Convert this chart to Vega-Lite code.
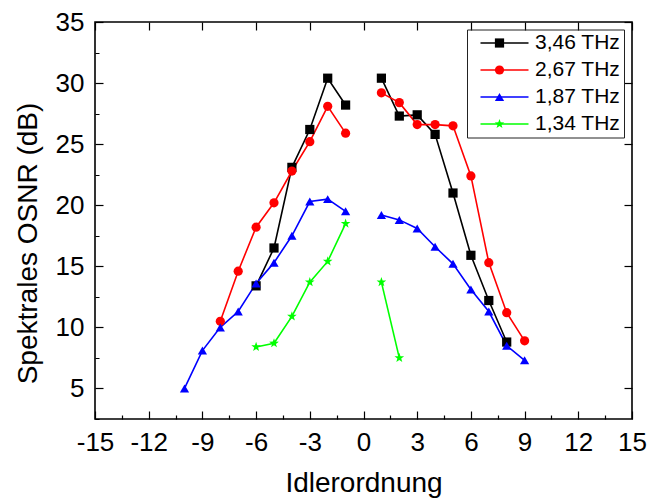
{
  "$schema": "https://vega.github.io/schema/vega-lite/v6.json",
  "width": 537,
  "height": 397,
  "autosize": {"type": "none"},
  "padding": {"left": 95, "top": 22, "right": 16, "bottom": 83},
  "background": "white",
  "config": {
    "view": {"stroke": "black", "strokeWidth": 1.6},
    "font": "Liberation Sans",
    "axis": {"grid": false, "ticks": true, "zindex": 1, "domainColor": "black", "domainWidth": 1.6, "tickColor": "black", "tickWidth": 1.2, "labelColor": "black", "titleColor": "black", "labelFont": "Liberation Sans", "titleFont": "Liberation Sans", "labelFontSize": 26, "titleFontSize": 28, "titleFontWeight": "normal"}
  },
  "data": {"values": [
    {"f": "3,46 THz", "side": "L", "n": -6, "osnr": 13.4},
    {"f": "3,46 THz", "side": "L", "n": -5, "osnr": 16.5},
    {"f": "3,46 THz", "side": "L", "n": -4, "osnr": 23.1},
    {"f": "3,46 THz", "side": "L", "n": -3, "osnr": 26.2},
    {"f": "3,46 THz", "side": "L", "n": -2, "osnr": 30.4},
    {"f": "3,46 THz", "side": "L", "n": -1, "osnr": 28.2},
    {"f": "3,46 THz", "side": "R", "n": 1, "osnr": 30.4},
    {"f": "3,46 THz", "side": "R", "n": 2, "osnr": 27.3},
    {"f": "3,46 THz", "side": "R", "n": 3, "osnr": 27.4},
    {"f": "3,46 THz", "side": "R", "n": 4, "osnr": 25.8},
    {"f": "3,46 THz", "side": "R", "n": 5, "osnr": 21.0},
    {"f": "3,46 THz", "side": "R", "n": 6, "osnr": 15.9},
    {"f": "3,46 THz", "side": "R", "n": 7, "osnr": 12.2},
    {"f": "3,46 THz", "side": "R", "n": 8, "osnr": 8.8},
    {"f": "2,67 THz", "side": "L", "n": -8, "osnr": 10.5},
    {"f": "2,67 THz", "side": "L", "n": -7, "osnr": 14.6},
    {"f": "2,67 THz", "side": "L", "n": -6, "osnr": 18.2},
    {"f": "2,67 THz", "side": "L", "n": -5, "osnr": 20.2},
    {"f": "2,67 THz", "side": "L", "n": -4, "osnr": 22.8},
    {"f": "2,67 THz", "side": "L", "n": -3, "osnr": 25.2},
    {"f": "2,67 THz", "side": "L", "n": -2, "osnr": 28.1},
    {"f": "2,67 THz", "side": "L", "n": -1, "osnr": 25.9},
    {"f": "2,67 THz", "side": "R", "n": 1, "osnr": 29.2},
    {"f": "2,67 THz", "side": "R", "n": 2, "osnr": 28.4},
    {"f": "2,67 THz", "side": "R", "n": 3, "osnr": 26.6},
    {"f": "2,67 THz", "side": "R", "n": 4, "osnr": 26.6},
    {"f": "2,67 THz", "side": "R", "n": 5, "osnr": 26.5},
    {"f": "2,67 THz", "side": "R", "n": 6, "osnr": 22.4},
    {"f": "2,67 THz", "side": "R", "n": 7, "osnr": 15.3},
    {"f": "2,67 THz", "side": "R", "n": 8, "osnr": 11.2},
    {"f": "2,67 THz", "side": "R", "n": 9, "osnr": 8.9},
    {"f": "1,87 THz", "side": "L", "n": -10, "osnr": 5.0},
    {"f": "1,87 THz", "side": "L", "n": -9, "osnr": 8.1},
    {"f": "1,87 THz", "side": "L", "n": -8, "osnr": 10.0},
    {"f": "1,87 THz", "side": "L", "n": -7, "osnr": 11.3},
    {"f": "1,87 THz", "side": "L", "n": -6, "osnr": 13.6},
    {"f": "1,87 THz", "side": "L", "n": -5, "osnr": 15.3},
    {"f": "1,87 THz", "side": "L", "n": -4, "osnr": 17.5},
    {"f": "1,87 THz", "side": "L", "n": -3, "osnr": 20.3},
    {"f": "1,87 THz", "side": "L", "n": -2, "osnr": 20.5},
    {"f": "1,87 THz", "side": "L", "n": -1, "osnr": 19.5},
    {"f": "1,87 THz", "side": "R", "n": 1, "osnr": 19.2},
    {"f": "1,87 THz", "side": "R", "n": 2, "osnr": 18.8},
    {"f": "1,87 THz", "side": "R", "n": 3, "osnr": 18.1},
    {"f": "1,87 THz", "side": "R", "n": 4, "osnr": 16.6},
    {"f": "1,87 THz", "side": "R", "n": 5, "osnr": 15.2},
    {"f": "1,87 THz", "side": "R", "n": 6, "osnr": 13.1},
    {"f": "1,87 THz", "side": "R", "n": 7, "osnr": 11.3},
    {"f": "1,87 THz", "side": "R", "n": 8, "osnr": 8.5},
    {"f": "1,87 THz", "side": "R", "n": 9, "osnr": 7.3},
    {"f": "1,34 THz", "side": "L", "n": -6, "osnr": 8.4},
    {"f": "1,34 THz", "side": "L", "n": -5, "osnr": 8.7},
    {"f": "1,34 THz", "side": "L", "n": -4, "osnr": 10.9},
    {"f": "1,34 THz", "side": "L", "n": -3, "osnr": 13.7},
    {"f": "1,34 THz", "side": "L", "n": -2, "osnr": 15.4},
    {"f": "1,34 THz", "side": "L", "n": -1, "osnr": 18.5},
    {"f": "1,34 THz", "side": "R", "n": 1, "osnr": 13.7},
    {"f": "1,34 THz", "side": "R", "n": 2, "osnr": 7.5}
  ]},
  "layer": [
    {
      "mark": {"type": "line", "strokeWidth": 1.6},
      "encoding": {
        "x": {"field": "n", "type": "quantitative", "scale": {"domain": [-15, 15], "nice": false, "zero": false},
          "axis": {"orient": "bottom", "title": "Idlerordnung", "titlePadding": 14, "offset": -8, "domain": false,
            "values": [-15,-13.5,-12,-10.5,-9,-7.5,-6,-4.5,-3,-1.5,0,1.5,3,4.5,6,7.5,9,10.5,12,13.5,15],
            "labelExpr": "datum.value % 3 === 0 ? (datum.value < 0 ? '-' + abs(datum.value) : '' + datum.value) : ''",
            "tickSize": 8,
            "tickDash": {"condition": {"test": "datum.value % 3 !== 0", "value": [0, 4, 4]}, "value": [8, 0]},
            "labelPadding": 10, "labelFlush": false, "labelOverlap": false}},
        "y": {"field": "osnr", "type": "quantitative", "scale": {"domain": [2.5, 35], "nice": false, "zero": false},
          "axis": {"orient": "left", "title": "Spektrales OSNR (dB)", "titlePadding": 13, "titleY": 221, "offset": -8, "domain": false,
            "values": [2.5,5,7.5,10,12.5,15,17.5,20,22.5,25,27.5,30,32.5,35],
            "labelExpr": "datum.value % 5 === 0 ? datum.label : ''",
            "tickSize": 8,
            "tickDash": {"condition": {"test": "datum.value % 5 !== 0", "value": [0, 4, 4]}, "value": [8, 0]},
            "labelPadding": 11, "labelFlush": false, "labelOverlap": false}},
        "stroke": {"field": "f", "type": "nominal", "sort": ["3,46 THz", "2,67 THz", "1,87 THz", "1,34 THz"],
          "scale": {"range": ["#000000", "#ff0000", "#0000ff", "#00ff00"]},
          "legend": {"title": null, "orient": "none", "legendX": 372, "legendY": 7.5, "strokeColor": "#222222", "padding": 3,
            "labelFontSize": 21, "labelFont": "Liberation Sans", "labelColor": "black", "rowPadding": 5,
            "symbolType": "M-6,0L6,0", "symbolSize": 64, "symbolStrokeWidth": 1.6, "symbolOffset": 24, "labelOffset": 20}},
        "detail": {"field": "side", "type": "nominal"}
      }
    },
    {
      "mark": {"type": "point", "filled": true, "opacity": 1, "size": 85},
      "encoding": {
        "x": {"field": "n", "type": "quantitative",
          "axis": {"orient": "top", "title": null, "labels": false, "offset": -8, "domain": false,
            "values": [-15,-12,-9,-6,-3,0,3,6,9,12,15],
            "tickSize": 8}},
        "y": {"field": "osnr", "type": "quantitative",
          "axis": {"orient": "right", "title": null, "labels": false, "offset": -8, "domain": false,
            "values": [5,10,15,20,25,30,35],
            "tickSize": 8}},
        "color": {"field": "f", "type": "nominal",
          "scale": {"domain": ["3,46 THz", "2,67 THz", "1,87 THz", "1,34 THz"], "range": ["#000000", "#ff0000", "#0000ff", "#00ff00"]},
          "legend": {"title": null, "orient": "none", "legendX": 372, "legendY": 7.5, "padding": 3,
            "labelFontSize": 21, "labelFont": "Liberation Sans", "labelExpr": "' '", "rowPadding": 5,
            "symbolSize": 85, "symbolOffset": 19, "labelOffset": 6}},
        "shape": {"field": "f", "type": "nominal",
          "scale": {"domain": ["3,46 THz", "2,67 THz", "1,87 THz", "1,34 THz"],
            "range": ["square", "circle", "triangle-up", "M0,-1.1L0.259,-0.356L1.046,-0.34L0.418,0.136L0.647,0.89L0,0.44L-0.647,0.89L-0.418,0.136L-1.046,-0.34L-0.259,-0.356Z"]},
          "legend": {"title": null, "orient": "none", "legendX": 372, "legendY": 7.5, "padding": 3,
            "labelFontSize": 21, "labelFont": "Liberation Sans", "labelExpr": "' '", "rowPadding": 5,
            "symbolSize": 85, "symbolOffset": 19, "labelOffset": 6}}
      }
    }
  ],
  "resolve": {"axis": {"x": "independent", "y": "independent"}}
}
